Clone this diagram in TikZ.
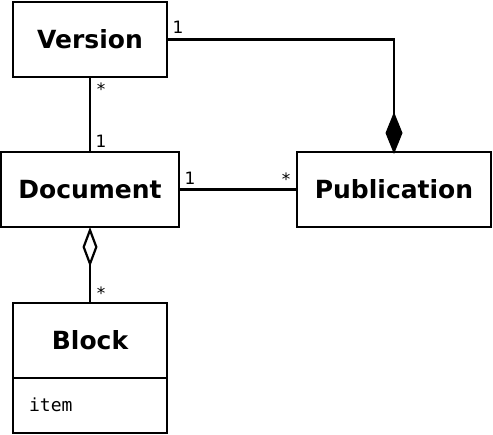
\documentclass[tikz,border=0pt]{standalone}
\usepackage{fontspec}
\setmainfont{DejaVu Sans}
\setmonofont{DejaVu Sans Mono}
\usetikzlibrary{arrows.meta}
\begin{document}
\begin{tikzpicture}[x=1pt,y=-1pt,line width=2.2pt,
  box/.style={draw,rectangle,inner sep=0pt,outer sep=0pt},
  cls/.style={box,font=\fontsize{25}{30}\selectfont\bfseries},
  mult/.style={font=\fontsize{17}{20}\selectfont,inner sep=0pt},
  attr/.style={font=\fontsize{18}{21}\selectfont\ttfamily,inner sep=0pt,anchor=west},
  comp/.style={-{Diamond[length=42pt,width=17pt]},shorten >=-2pt},
  aggr/.style={{Diamond[open,length=40pt,width=15pt]}-}]
\useasboundingbox (0,0) rectangle (493,435);
\node[cls,minimum width=154pt,minimum height=75pt] (version) at (90,39.5) {Version};
\node[cls,minimum width=178pt,minimum height=75pt] (doc) at (90,189.5) {Document};
\node[cls,minimum width=194pt,minimum height=75pt] (pub) at (394,189.5) {Publication};
\node[cls,minimum width=154pt,minimum height=75pt] (block) at (90,340.5) {Block};
\node[box,minimum width=154pt,minimum height=55pt,anchor=north] (blockattr) at (block.south) {};
\node[attr] (item) at (28,405) {item};
\draw[comp] (version.east) -| (pub.north);
\draw (version.south) -- (doc.north);
\draw (doc.east) -- (pub.west);
\draw[aggr] (doc.south) -- (block.north);
\node[mult] (m1) at (178,27) {1};
\node[mult] (m2) at (101,89) {*};
\node[mult] (m3) at (101,141) {1};
\node[mult] (m4) at (190,178) {1};
\node[mult] (m5) at (286,179) {*};
\node[mult] (m6) at (101,293) {*};
\end{tikzpicture}
\end{document}
